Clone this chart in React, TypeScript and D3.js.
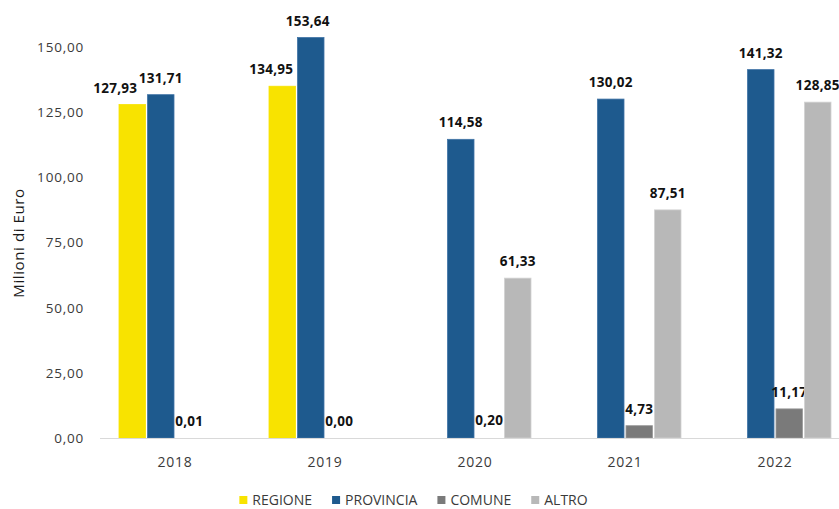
import React, { useEffect, useRef } from "react";
import * as d3 from "d3";

const years = ["2018", "2019", "2020", "2021", "2022"];
const seriesNames = ["REGIONE", "PROVINCIA", "COMUNE", "ALTRO"];
const regione: (number | null)[] = [127.93, 134.95, null, null, null];
const provincia: (number | null)[] = [131.71, 153.64, 114.58, 130.02, 141.32];
const comune: (number | null)[] = [0.01, 0.0, 0.2, 4.73, 11.17];
const altro: (number | null)[] = [null, null, 61.33, 87.51, 128.85];
const yTicks = [0, 25, 50, 75, 100, 125, 150];
const yTitle = "Milioni di Euro";

const colors: Record<string, string> = {
  REGIONE: "#f8e300",
  PROVINCIA: "#1e5a8e",
  COMUNE: "#7a7a7a",
  ALTRO: "#b8b8b8",
};
const strokes: Record<string, string> = {
  REGIONE: "#f8e300",
  PROVINCIA: "#3f73a6",
  COMUNE: "#9a9a9a",
  ALTRO: "#d2d2d2",
};
// label nudges (Excel moved overlapping labels)
const labelDx: Record<string, number> = { "2018-REGIONE": -17, "2019-REGIONE": -11, "2019-PROVINCIA": -3 };

const fmt = (v: number) => v.toFixed(2).replace(".", ",");

export default function App() {
  const ref = useRef<SVGSVGElement>(null);
  useEffect(() => {
    const svg = d3.select(ref.current);
    svg.selectAll("*").remove();
    const W = 839, H = 509;
    const font = "'Open Sans', sans-serif";
    const x = d3.scaleBand<string>().domain(years).range([100, 850]);
    const xi = d3.scaleBand<string>().domain(seriesNames).range([19, 131]).paddingInner(0.07);
    const y = d3.scaleLinear().domain([0, 150]).range([438, 47]);
    const data: Record<string, (number | null)[]> = {
      REGIONE: regione, PROVINCIA: provincia, COMUNE: comune, ALTRO: altro,
    };

    // y tick labels
    svg.append("g").selectAll("text").data(yTicks).join("text")
      .attr("x", 84).attr("y", (d) => y(d)).attr("dy", "0.36em")
      .attr("text-anchor", "end").attr("font-family", font).attr("font-size", 13.5)
      .attr("letter-spacing", 0.8).attr("fill", "#3a3a3a")
      .text((d) => fmt(d));

    // y title
    svg.append("text")
      .attr("transform", `translate(24,243) rotate(-90)`)
      .attr("text-anchor", "middle").attr("font-family", font).attr("font-size", 15)
      .attr("letter-spacing", 0.6).attr("fill", "#1a1a1a").text(yTitle);

    // bars
    const g = svg.append("g");
    seriesNames.forEach((s) => {
      data[s].forEach((v, i) => {
        if (v === null) return;
        const bx = (x(years[i]) as number) + (xi(s) as number);
        const bw = xi.bandwidth();
        if (v >= 1) {
          g.append("rect")
            .attr("x", bx).attr("y", y(v)).attr("width", bw).attr("height", y(0) - y(v))
            .attr("fill", colors[s]).attr("stroke", strokes[s]).attr("stroke-width", 0.8);
        }
        g.append("text")
          .attr("x", bx + bw / 2 + (labelDx[`${years[i]}-${s}`] || 0))
          .attr("y", y(v) - 12)
          .attr("text-anchor", "middle").attr("font-family", font).attr("font-size", 13.5)
          .attr("font-weight", "bold").attr("letter-spacing", 0.3).attr("fill", "#111")
          .text(fmt(v));
      });
    });

    // x axis line
    svg.append("line").attr("x1", 100).attr("x2", W).attr("y1", 438.5).attr("y2", 438.5)
      .attr("stroke", "#d9d9d9").attr("stroke-width", 1.2);

    // x labels
    svg.append("g").selectAll("text").data(years).join("text")
      .attr("x", (d) => (x(d) as number) + x.bandwidth() / 2).attr("y", 467)
      .attr("text-anchor", "middle").attr("font-family", font).attr("font-size", 14)
      .attr("letter-spacing", 0.8).attr("fill", "#3a3a3a").text((d) => d);

    // legend
    const leg = svg.append("g");
    const items = seriesNames.map((s) => {
      const gi = leg.append("g");
      gi.append("rect").attr("width", 8).attr("height", 8).attr("y", -9).attr("fill", colors[s]);
      const t = gi.append("text").attr("x", 13).attr("y", 0).attr("font-family", font)
        .attr("font-size", 14).attr("fill", "#3a3a3a").text(s);
      const w = 13 + (t.node() as SVGTextElement).getComputedTextLength();
      return { gi, w };
    });
    const gap = 20;
    const total = items.reduce((a, b) => a + b.w, 0) + gap * (items.length - 1);
    let cx = W / 2 - 6 - total / 2;
    items.forEach(({ gi, w }) => {
      gi.attr("transform", `translate(${cx},${H - 4})`);
      cx += w + gap;
    });
  }, []);
  return (
    <svg ref={ref} width={839} height={509}
      style={{ position: "absolute", left: 0, top: 0, background: "#fff" }} />
  );
}
